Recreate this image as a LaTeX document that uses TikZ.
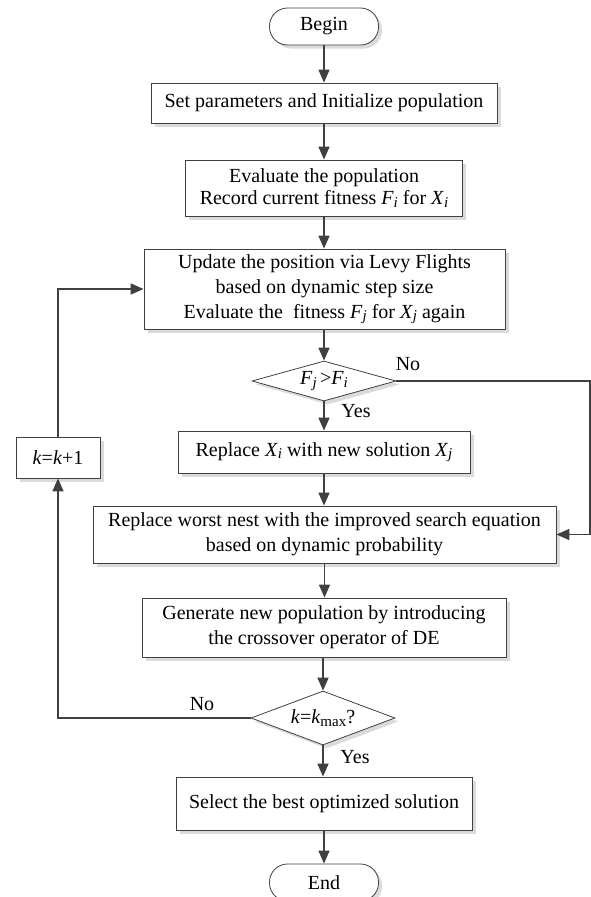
\documentclass[tikz,border=0pt]{standalone}
\usepackage{fontspec}
\setmainfont{Liberation Serif}
\usetikzlibrary{arrows.meta,shapes.geometric,shadows}
\definecolor{linec}{HTML}{404040}
\newcommand{\fs}{\fontsize{20}{25}\selectfont}
\newcommand{\sbs}[1]{\raisebox{-2.5pt}{\fontsize{15}{15}\selectfont #1}}
\tikzset{
  shd/.style={drop shadow={shadow xshift=3.5pt,shadow yshift=-3.5pt,fill=black!14,opacity=1}},
  box/.style={rectangle,draw=linec,line width=0.8pt,fill=white,inner sep=0pt,align=center,font=\fs,shd},
  term/.style={box,rounded corners=18pt},
  dec/.style={diamond,draw=linec,line width=0.8pt,fill=white,inner sep=0pt,aspect=3.6,font=\fs,shd},
  arr/.style={draw=linec,line width=1.5pt,-{Triangle[length=13pt,width=11pt]}},
  lbl/.style={font=\fs,inner sep=0pt}
}
\begin{document}
\begin{tikzpicture}[x=1pt,y=-1pt]
\useasboundingbox (0,0) rectangle (591,897);
\node[term,minimum width=109pt,minimum height=37pt] (begin) at (324,26.5) {Begin};
\node[box,minimum width=346pt,minimum height=40pt] (set) at (324,103) {Set parameters and Initialize population};
\node[box,minimum width=277pt,minimum height=56pt,font=\fontsize{20}{22}\selectfont] (eval) at (324,188) {Evaluate the population\\Record current fitness \textit{F}\sbs{\textit{i}} for \textit{X}\sbs{\textit{i}}};
\node[box,minimum width=361pt,minimum height=80pt] (update) at (324.5,289) {Update the position via Levy Flights\\based on dynamic step size\\Evaluate the \ fitness \textit{F}\sbs{\textit{j}} for \textit{X}\sbs{\textit{j}} again};
\node[dec,minimum width=144pt,minimum height=40pt] (d1) at (324,381) {\textit{F}\sbs{\textit{j}}\,\textgreater\textit{F}\sbs{\textit{i}}};
\node[box,minimum width=292pt,minimum height=42pt] (repx) at (324,452) {Replace \textit{X}\sbs{\textit{i}} with new solution \textit{X}\sbs{\textit{j}}};
\node[box,minimum width=84pt,minimum height=41pt] (kbox) at (58,457.5) {\textit{k}=\textit{k}+1};
\node[box,minimum width=463pt,minimum height=57pt] (worst) at (324.5,534.5) {Replace worst nest with the improved search equation\\based on dynamic probability};
\node[box,minimum width=364pt,minimum height=59pt] (gen) at (324,627.5) {Generate new population by introducing\\the crossover operator of DE};
\node[dec,minimum width=144pt,minimum height=54pt,aspect=2.67] (d2) at (323,718) {\textit{k}=\textit{k}\sbs{max}?};
\node[box,minimum width=296pt,minimum height=53pt] (sel) at (324,803.5) {Select the best optimized solution};
\node[term,minimum width=109pt,minimum height=37pt] (end) at (324,882.5) {End};

\coordinate (r1) at (590,381);
\coordinate (r2) at (590,534.5);
\coordinate (l1) at (58,718);
\coordinate (l2) at (58,289);

\draw[arr] (begin) -- (set);
\draw[arr] (set) -- (eval);
\draw[arr] (eval.south) -- (eval.south |- update.north);
\draw[arr] (update.south -| d1.north) -- (d1.north);
\draw[arr] (d1.south) -- (d1.south |- repx.north);
\draw[arr] (repx.south) -- (repx.south |- worst.north);
\draw[arr] (d1.east) -- (r1) -- (r2) -- (worst.east);
\draw[arr] (worst.south) -- (worst.south |- gen.north);
\draw[arr] (gen.south -| d2.north) -- (d2.north);
\draw[arr] (d2.south) -- (d2.south |- sel.north);
\draw[arr] (sel) -- (end);
\draw[arr] (d2.west) -- (l1) -- (kbox.south);
\draw[arr] (kbox.north) -- (l2) -- (update.west);

\node[lbl] (no1) at (408,364) {No};
\node[lbl] (yes1) at (356,411) {Yes};
\node[lbl] (no2) at (202,704) {No};
\node[lbl] (yes2) at (355,757) {Yes};
\end{tikzpicture}
\end{document}
